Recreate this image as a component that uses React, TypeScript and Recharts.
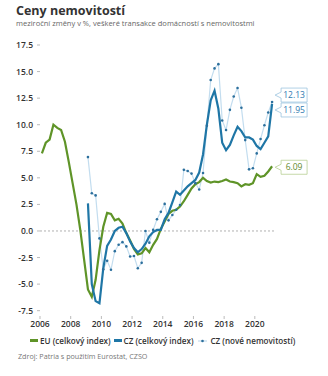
import React from "react";
import {
  LineChart,
  Line,
  XAxis,
  YAxis,
  ReferenceLine,
  LabelList,
} from "recharts";

// quarters 2006Q1 .. 2021Q1
const quarters = [
  "2006Q1", "2006Q2", "2006Q3", "2006Q4",
  "2007Q1", "2007Q2", "2007Q3", "2007Q4",
  "2008Q1", "2008Q2", "2008Q3", "2008Q4",
  "2009Q1", "2009Q2", "2009Q3", "2009Q4",
  "2010Q1", "2010Q2", "2010Q3", "2010Q4",
  "2011Q1", "2011Q2", "2011Q3", "2011Q4",
  "2012Q1", "2012Q2", "2012Q3", "2012Q4",
  "2013Q1", "2013Q2", "2013Q3", "2013Q4",
  "2014Q1", "2014Q2", "2014Q3", "2014Q4",
  "2015Q1", "2015Q2", "2015Q3", "2015Q4",
  "2016Q1", "2016Q2", "2016Q3", "2016Q4",
  "2017Q1", "2017Q2", "2017Q3", "2017Q4",
  "2018Q1", "2018Q2", "2018Q3", "2018Q4",
  "2019Q1", "2019Q2", "2019Q3", "2019Q4",
  "2020Q1", "2020Q2", "2020Q3", "2020Q4",
  "2021Q1",
];

const euIndex = [
  7.3, 8.3, 8.6, 10.0, 9.7, 9.5, 8.4, 6.5,
  4.5, 2.5, 0.1, -2.7, -5.5, -6.2, -4.6, -1.8,
  0.4, 1.7, 1.6, 1.0, 1.15, 0.7, -0.2, -0.9,
  -1.7, -2.2, -2.1, -1.6, -2.0, -1.3, -0.75, 0.2,
  0.9, 1.6, 1.9, 2.0, 2.3, 2.8, 3.4, 4.0,
  4.4, 4.6, 5.0, 4.7, 4.55, 4.65, 4.6, 4.7,
  4.85, 4.65, 4.6, 4.5, 4.2, 4.4, 4.35, 4.5,
  5.35, 5.1, 5.2, 5.6, 6.09,
];

const czIndex = [
  null, null, null, null, null, null, null, null,
  null, null, null, null, 2.6, -5.0, -6.6, -6.8,
  -3.5, -1.4, -0.8, 0.0, 0.3, 0.4, -0.2, -1.0,
  -1.6, -2.0, -1.7, -1.2, -0.5, -0.1, 0.1, 0.1,
  1.1, 1.7, 2.7, 3.7, 3.4, 3.8, 4.2, 4.5,
  4.8, 5.5, 7.2, 10.0, 12.3, 13.2, 11.5, 8.3,
  7.6, 8.1, 9.0, 9.8, 9.4, 8.8, 8.8, 8.6,
  8.0, 7.7, 8.3, 8.9, 11.95,
];

const czNew = [
  null, null, null, null, null, null, null, null,
  null, null, null, null, 6.95, 3.55, 3.35, -0.7,
  -3.6, -2.8, -3.65, -1.9, -1.3, -1.05, -1.45, -2.4,
  -2.35, -3.5, -3.0, 0.0, -1.1, 0.1, 1.1, 1.8,
  2.55, 1.0, 1.5, 2.0, 2.45, 5.75, 5.65, 5.4,
  4.5, 3.9, 5.45, 9.9, 14.2, 15.3, 15.7, 10.4,
  9.5, 11.4, 12.65, 13.45, 11.6, 8.55, 5.8, 5.9,
  7.3, 8.65, 9.95, 11.15, 12.13,
];

const yearTicks = [2006, 2008, 2010, 2012, 2014, 2016, 2018, 2020];
const valueTicks = [-7.5, -5, -2.5, 0, 2.5, 5, 7.5, 10, 12.5, 15, 17.5];

const FONT = "'Open Sans', sans-serif";
const EU_COLOR = "#5f9428";
const CZ_COLOR = "#1f76a6";
const NEW_LINE = "#c3ddef";
const NEW_DOT = "#2c6f9c";

const data = quarters.map((q, i) => {
  const year = Number(q.slice(0, 4));
  const qn = Number(q.slice(5));
  return {
    t: year + (qn - 1) / 4 + 0.125,
    eu: euIndex[i],
    cz: czIndex[i],
    czNew: czNew[i],
  };
});

const last = quarters.length - 1;

// callout box at the last point of a series
function endLabel(border: string, text: string, dy: number) {
  return (props: any) => {
    const { x, y, value, index } = props;
    if (index !== last || x == null || y == null) return null;
    const bx = x + 9;
    const w = 26;
    const h = 14;
    const cy = y + dy;
    const top = cy - h / 2;
    const bottom = cy + h / 2;
    const tip = x + 3;
    const d = `M${bx},${top} L${bx + w},${top} L${bx + w},${bottom} L${bx},${bottom} L${bx},${cy + 3} L${tip},${cy} L${bx},${cy - 3} Z`;
    return (
      <g>
        <path d={d} fill="#fff" stroke={border} strokeWidth={0.8} />
        <text
          x={bx + w / 2}
          y={cy}
          dy="0.35em"
          textAnchor="middle"
          fontSize={8.5}
          fontFamily={FONT}
          fill={text}
        >
          {Number(value).toFixed(2)}
        </text>
      </g>
    );
  };
}

export default function App() {
  return (
    <div
      style={{
        position: "absolute",
        left: 0,
        top: 0,
        width: 328,
        height: 376,
        background: "#fff",
        fontFamily: FONT,
      }}
    >
      <div style={{ position: "absolute", left: 16, top: 4, fontSize: 12.5, lineHeight: "13px", fontWeight: 700, color: "#333", whiteSpace: "nowrap" }}>
        Ceny nemovitostí
      </div>
      <div style={{ position: "absolute", left: 16, top: 19, fontSize: 7.5, lineHeight: "8px", color: "#666", whiteSpace: "nowrap" }}>
        meziroční změny v %, veškeré transakce domácností s nemovitostmi
      </div>

      <div style={{ position: "absolute", left: 0, top: 0 }}>
        <LineChart
          width={328}
          height={340}
          data={data}
          margin={{ top: 45, right: 54, left: 0, bottom: 0 }}
        >
          <XAxis
            dataKey="t"
            type="number"
            domain={[2006, 2021.25]}
            ticks={yearTicks}
            axisLine={false}
            tickLine={{ stroke: "#bbb" }}
            tickSize={3}
            tickMargin={2}
            height={24}
            tick={{ fontSize: 8.5, fontWeight: 600, fill: "#333", fontFamily: FONT }}
          />
          <YAxis
            type="number"
            domain={[-8, 17.5]}
            ticks={valueTicks}
            allowDataOverflow
            width={40}
            axisLine={false}
            tickLine={{ stroke: "#bbb" }}
            tickSize={3}
            tickMargin={4}
            tickFormatter={(v) => Number(v).toFixed(1)}
            tick={{ fontSize: 8.5, fontWeight: 600, fill: "#333", fontFamily: FONT }}
          />
          <ReferenceLine y={0} stroke="#9a9a9a" strokeDasharray="2 2" strokeWidth={0.8} />
          <Line
            dataKey="czNew"
            stroke={NEW_LINE}
            strokeWidth={1.2}
            dot={{ r: 1.3, fill: NEW_DOT, stroke: "none" }}
            activeDot={false}
            isAnimationActive={false}
          >
            <LabelList dataKey="czNew" content={endLabel("#9cc4de", "#2f7ab0", -7)} />
          </Line>
          <Line
            dataKey="eu"
            stroke={EU_COLOR}
            strokeWidth={2.2}
            dot={false}
            activeDot={false}
            isAnimationActive={false}
          >
            <LabelList dataKey="eu" content={endLabel("#b7cf93", "#5f8a2c", 1)} />
          </Line>
          <Line
            dataKey="cz"
            stroke={CZ_COLOR}
            strokeWidth={2.2}
            dot={false}
            activeDot={false}
            isAnimationActive={false}
          >
            <LabelList dataKey="cz" content={endLabel("#9cc4de", "#2f7ab0", 6)} />
          </Line>
        </LineChart>
      </div>

      <div
        style={{
          position: "absolute",
          left: 30,
          top: 335,
          display: "flex",
          alignItems: "center",
          fontSize: 8.1,
          fontWeight: 600,
          color: "#333",
          whiteSpace: "nowrap",
        }}
      >
        <span style={{ display: "inline-block", width: 8, height: 2.5, background: EU_COLOR, marginRight: 2 }} />
        <span style={{ marginRight: 3 }}>EU (celkový index)</span>
        <span style={{ display: "inline-block", width: 8, height: 2.5, background: CZ_COLOR, marginRight: 2 }} />
        <span style={{ marginRight: 5 }}>CZ (celkový index)</span>
        <svg width={9} height={6} style={{ marginRight: 3 }}>
          <line x1={0} y1={3} x2={9} y2={3} stroke={NEW_LINE} strokeWidth={1.2} />
          <circle cx={4.5} cy={3} r={1.3} fill={NEW_DOT} />
        </svg>
        <span>CZ (nové nemovitostí)</span>
      </div>
      <div style={{ position: "absolute", left: 18, top: 351, fontSize: 7.2, color: "#777", whiteSpace: "nowrap" }}>
        Zdroj: Patria s použitím Eurostat, CZSO
      </div>
    </div>
  );
}
